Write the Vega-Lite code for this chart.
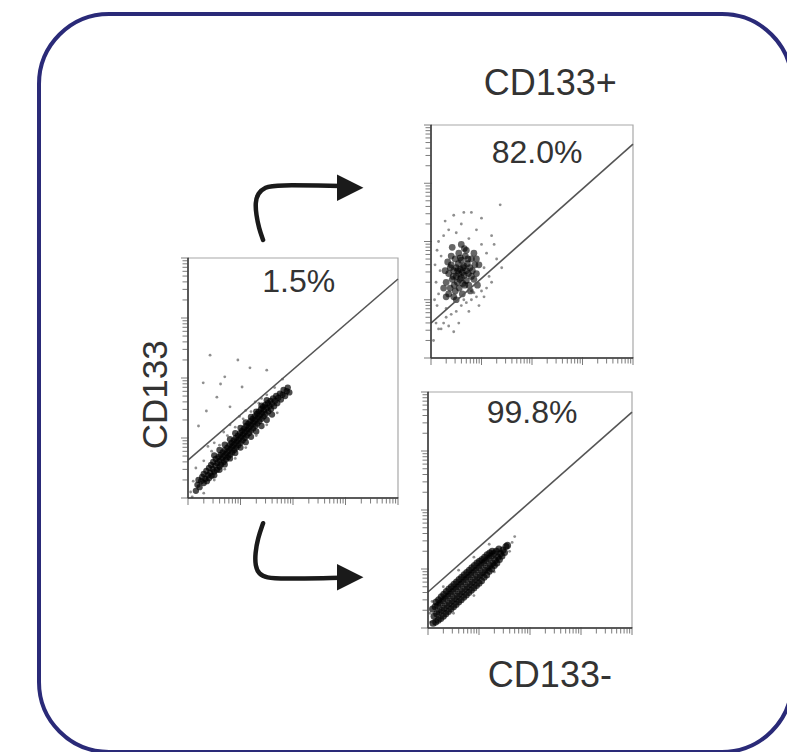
{
  "$schema": "https://vega.github.io/schema/vega-lite/v6.json",
  "width": 753,
  "height": 738,
  "autosize": "none",
  "padding": {"left": 39, "top": 14, "right": 0, "bottom": 0},
  "background": "white",
  "config": {
    "view": {"stroke": "#2a2a78", "strokeWidth": 4, "cornerRadius": 70},
    "font": "Liberation Sans"
  },
  "datasets": {
    "ticks": [
      {"v":0,"kind":"major"},{"v":0.301,"kind":"minor"},{"v":0.477,"kind":"minor"},{"v":0.602,"kind":"minor"},{"v":0.699,"kind":"minor"},{"v":0.778,"kind":"minor"},{"v":0.845,"kind":"minor"},{"v":0.903,"kind":"minor"},{"v":0.954,"kind":"minor"},
      {"v":1,"kind":"major"},{"v":1.301,"kind":"minor"},{"v":1.477,"kind":"minor"},{"v":1.602,"kind":"minor"},{"v":1.699,"kind":"minor"},{"v":1.778,"kind":"minor"},{"v":1.845,"kind":"minor"},{"v":1.903,"kind":"minor"},{"v":1.954,"kind":"minor"},
      {"v":2,"kind":"major"},{"v":2.301,"kind":"minor"},{"v":2.477,"kind":"minor"},{"v":2.602,"kind":"minor"},{"v":2.699,"kind":"minor"},{"v":2.778,"kind":"minor"},{"v":2.845,"kind":"minor"},{"v":2.903,"kind":"minor"},{"v":2.954,"kind":"minor"},
      {"v":3,"kind":"major"},{"v":3.301,"kind":"minor"},{"v":3.477,"kind":"minor"},{"v":3.602,"kind":"minor"},{"v":3.699,"kind":"minor"},{"v":3.778,"kind":"minor"},{"v":3.845,"kind":"minor"},{"v":3.903,"kind":"minor"},{"v":3.954,"kind":"minor"},
      {"v":4,"kind":"major"}
    ],
    "axislines": [
      {"x1":0,"y1":0,"x2":4,"y2":0},
      {"x1":0,"y1":0,"x2":0,"y2":4}
    ],
    "frame": [{"x0":0,"x1":4,"y0":0,"y1":4}],
    "left_core": [
      {"fl":0.15,"cd":0.12},{"fl":0.18,"cd":0.22},{"fl":0.2,"cd":0.3},{"fl":0.22,"cd":0.18},{"fl":0.25,"cd":0.28},{"fl":0.27,"cd":0.35},{"fl":0.3,"cd":0.25},{"fl":0.3,"cd":0.4},{"fl":0.33,"cd":0.32},{"fl":0.35,"cd":0.45},{"fl":0.36,"cd":0.28},{"fl":0.38,"cd":0.38},{"fl":0.4,"cd":0.5},{"fl":0.4,"cd":0.33},
      {"fl":0.42,"cd":0.42},{"fl":0.44,"cd":0.55},{"fl":0.45,"cd":0.37},{"fl":0.47,"cd":0.48},{"fl":0.48,"cd":0.6},{"fl":0.5,"cd":0.44},{"fl":0.52,"cd":0.54},{"fl":0.53,"cd":0.65},{"fl":0.55,"cd":0.47},{"fl":0.56,"cd":0.58},{"fl":0.58,"cd":0.68},{"fl":0.6,"cd":0.52},{"fl":0.6,"cd":0.62},{"fl":0.62,"cd":0.72},{"fl":0.63,"cd":0.56},{"fl":0.65,"cd":0.66},{"fl":0.66,"cd":0.76},{"fl":0.68,"cd":0.6},{"fl":0.69,"cd":0.7},{"fl":0.7,"cd":0.8},{"fl":0.72,"cd":0.64},{"fl":0.73,"cd":0.74},{"fl":0.75,"cd":0.84},{"fl":0.76,"cd":0.68},{"fl":0.77,"cd":0.78},{"fl":0.79,"cd":0.88},{"fl":0.8,"cd":0.72},
      {"fl":0.81,"cd":0.82},{"fl":0.83,"cd":0.92},{"fl":0.84,"cd":0.76},{"fl":0.85,"cd":0.86},{"fl":0.87,"cd":0.96},{"fl":0.88,"cd":0.8},{"fl":0.89,"cd":0.9},{"fl":0.91,"cd":1.0},{"fl":0.92,"cd":0.84},{"fl":0.93,"cd":0.94},{"fl":0.95,"cd":1.04},{"fl":0.96,"cd":0.88},{"fl":0.97,"cd":0.98},{"fl":0.99,"cd":1.08},{"fl":1.0,"cd":0.92},{"fl":1.01,"cd":1.02},{"fl":1.03,"cd":1.12},{"fl":1.04,"cd":0.96},{"fl":1.05,"cd":1.06},{"fl":1.07,"cd":1.16},{"fl":1.08,"cd":1.0},{"fl":1.09,"cd":1.1},{"fl":1.11,"cd":1.2},{"fl":1.12,"cd":1.04},{"fl":1.13,"cd":1.14},{"fl":1.15,"cd":1.24},{"fl":1.16,"cd":1.08},{"fl":1.17,"cd":1.18},{"fl":1.19,"cd":1.28},{"fl":1.2,"cd":1.12},
      {"fl":1.21,"cd":1.22},{"fl":1.23,"cd":1.32},{"fl":1.24,"cd":1.16},{"fl":1.25,"cd":1.26},{"fl":1.27,"cd":1.36},{"fl":1.28,"cd":1.2},{"fl":1.29,"cd":1.3},{"fl":1.31,"cd":1.4},{"fl":1.32,"cd":1.24},{"fl":1.33,"cd":1.34},{"fl":1.35,"cd":1.44},{"fl":1.36,"cd":1.28},{"fl":1.37,"cd":1.38},{"fl":1.39,"cd":1.48},{"fl":1.4,"cd":1.32},{"fl":1.41,"cd":1.42},{"fl":1.43,"cd":1.52},{"fl":1.44,"cd":1.36},{"fl":1.45,"cd":1.46},{"fl":1.47,"cd":1.55},{"fl":1.48,"cd":1.4},{"fl":1.5,"cd":1.5},{"fl":1.52,"cd":1.58},{"fl":1.53,"cd":1.44},{"fl":1.55,"cd":1.53},{"fl":1.57,"cd":1.62},{"fl":1.58,"cd":1.48},
      {"fl":1.6,"cd":1.57},{"fl":1.62,"cd":1.66},{"fl":1.64,"cd":1.53},{"fl":1.66,"cd":1.62},{"fl":1.68,"cd":1.7},{"fl":1.7,"cd":1.58},{"fl":1.72,"cd":1.67},{"fl":1.75,"cd":1.74},{"fl":1.77,"cd":1.64},{"fl":1.8,"cd":1.72},{"fl":1.82,"cd":1.8},{"fl":1.85,"cd":1.7},{"fl":1.88,"cd":1.78},{"fl":1.9,"cd":1.84},{"fl":1.93,"cd":1.76},
      {"fl":0.5,"cd":0.38},{"fl":0.7,"cd":0.56},{"fl":0.9,"cd":0.75},{"fl":1.1,"cd":0.93},{"fl":1.3,"cd":1.11},{"fl":1.5,"cd":1.3},{"fl":0.6,"cd":0.47},{"fl":0.8,"cd":0.66},{"fl":1.0,"cd":0.84},{"fl":1.2,"cd":1.02},{"fl":1.4,"cd":1.2},{"fl":1.6,"cd":1.39},
      {"fl":0.5,"cd":0.71},{"fl":0.7,"cd":0.89},{"fl":0.9,"cd":1.08},{"fl":1.1,"cd":1.26},{"fl":1.3,"cd":1.44},{"fl":1.5,"cd":1.63},{"fl":0.6,"cd":0.8},{"fl":0.8,"cd":0.98},{"fl":1.0,"cd":1.17},{"fl":1.2,"cd":1.35},{"fl":1.4,"cd":1.54}
    ],
    "left_sparse": [
      {"fl":0.42,"cd":2.38},{"fl":0.29,"cd":1.92},{"fl":0.55,"cd":1.68},{"fl":0.7,"cd":2.02},{"fl":1.18,"cd":2.17},{"fl":1.5,"cd":2.13},{"fl":1.03,"cd":1.85},{"fl":0.8,"cd":1.52},{"fl":0.35,"cd":1.45},{"fl":0.62,"cd":1.9},{"fl":0.95,"cd":2.3},{"fl":0.2,"cd":1.2},
      {"fl":0.3,"cd":0.62},{"fl":0.45,"cd":0.78},{"fl":0.6,"cd":0.88},{"fl":0.75,"cd":1.04},{"fl":0.9,"cd":1.18},{"fl":1.05,"cd":1.32},{"fl":1.2,"cd":1.44},{"fl":1.35,"cd":1.58},{"fl":1.5,"cd":1.72},{"fl":1.65,"cd":1.84},{"fl":0.5,"cd":0.92},{"fl":0.8,"cd":1.22},{"fl":1.1,"cd":1.46},{"fl":1.4,"cd":1.66},{"fl":0.38,"cd":0.86},{"fl":0.68,"cd":1.1},{"fl":0.98,"cd":1.36},{"fl":1.28,"cd":1.6},{"fl":1.8,"cd":1.98},{"fl":0.15,"cd":0.5},
      {"fl":0.5,"cd":0.3},{"fl":0.7,"cd":0.48},{"fl":0.9,"cd":0.66},{"fl":1.1,"cd":0.84},{"fl":1.3,"cd":1.04},{"fl":1.5,"cd":1.22},{"fl":0.3,"cd":0.08},{"fl":1.7,"cd":1.42},{"fl":0.05,"cd":0.1},{"fl":0.1,"cd":0.28},{"fl":0.08,"cd":0.02}
    ],
    "top_core": [
      {"fl":0.3,"cd":1.3},{"fl":0.35,"cd":1.45},{"fl":0.38,"cd":1.2},{"fl":0.4,"cd":1.6},{"fl":0.42,"cd":1.35},{"fl":0.45,"cd":1.5},{"fl":0.46,"cd":1.25},{"fl":0.48,"cd":1.7},{"fl":0.5,"cd":1.4},{"fl":0.5,"cd":1.55},{"fl":0.52,"cd":1.3},{"fl":0.54,"cd":1.62},{"fl":0.55,"cd":1.45},{"fl":0.56,"cd":1.2},{"fl":0.58,"cd":1.52},{"fl":0.6,"cd":1.38},{"fl":0.6,"cd":1.68},{"fl":0.62,"cd":1.47},{"fl":0.63,"cd":1.28},{"fl":0.65,"cd":1.58},{"fl":0.66,"cd":1.42},{"fl":0.68,"cd":1.75},{"fl":0.7,"cd":1.5},{"fl":0.7,"cd":1.33},{"fl":0.72,"cd":1.62},{"fl":0.74,"cd":1.45},{"fl":0.75,"cd":1.25},{"fl":0.77,"cd":1.55},{"fl":0.8,"cd":1.4},{"fl":0.8,"cd":1.7},{"fl":0.82,"cd":1.5},{"fl":0.85,"cd":1.35},{"fl":0.87,"cd":1.6},{"fl":0.9,"cd":1.45},{"fl":0.35,"cd":1.1},{"fl":0.4,"cd":1.75},{"fl":0.45,"cd":1.05},{"fl":0.55,"cd":1.8},{"fl":0.62,"cd":1.1},{"fl":0.7,"cd":1.85},{"fl":0.78,"cd":1.15},{"fl":0.85,"cd":1.8},{"fl":0.92,"cd":1.25},{"fl":0.95,"cd":1.6},{"fl":0.28,"cd":1.5},{"fl":0.33,"cd":1.65},{"fl":0.44,"cd":1.4},{"fl":0.53,"cd":1.5},{"fl":0.57,"cd":1.35},{"fl":0.64,"cd":1.55},{"fl":0.67,"cd":1.25},{"fl":0.73,"cd":1.7},{"fl":0.48,"cd":1.15},{"fl":0.42,"cd":1.9},{"fl":0.6,"cd":1.95},
      {"fl":0.25,"cd":1.2},{"fl":0.3,"cd":1.05},{"fl":0.5,"cd":1.0},{"fl":0.58,"cd":1.72},{"fl":0.66,"cd":1.88},{"fl":0.38,"cd":1.55},{"fl":0.9,"cd":1.7}
    ],
    "top_sparse": [
      {"fl":0.05,"cd":0.3},{"fl":0.1,"cd":0.6},{"fl":0.12,"cd":0.9},{"fl":0.15,"cd":1.1},{"fl":0.1,"cd":1.3},{"fl":0.18,"cd":1.5},{"fl":0.2,"cd":1.75},{"fl":0.15,"cd":2.0},{"fl":0.25,"cd":2.1},{"fl":0.35,"cd":2.2},{"fl":0.5,"cd":2.15},{"fl":0.6,"cd":2.3},{"fl":0.75,"cd":2.05},{"fl":0.9,"cd":2.2},{"fl":1.0,"cd":1.95},{"fl":1.1,"cd":1.8},{"fl":1.2,"cd":2.1},{"fl":1.37,"cd":2.63},{"fl":0.8,"cd":2.5},{"fl":0.45,"cd":2.45},{"fl":1.05,"cd":1.55},{"fl":1.15,"cd":1.4},{"fl":1.3,"cd":1.7},{"fl":0.3,"cd":0.85},{"fl":0.2,"cd":0.5},
      {"fl":0.3,"cd":0.7},{"fl":0.4,"cd":0.75},{"fl":0.5,"cd":0.8},{"fl":0.6,"cd":0.9},{"fl":0.7,"cd":0.95},{"fl":0.8,"cd":1.0},{"fl":0.9,"cd":1.05},{"fl":1.0,"cd":1.15},{"fl":1.1,"cd":1.2},{"fl":0.55,"cd":0.6},{"fl":0.75,"cd":0.8},{"fl":0.95,"cd":0.9},{"fl":0.65,"cd":1.0},{"fl":0.85,"cd":1.12},{"fl":1.2,"cd":1.3},{"fl":0.45,"cd":0.45},{"fl":0.35,"cd":0.55},{"fl":0.25,"cd":0.6},{"fl":0.15,"cd":0.5},{"fl":1.05,"cd":1.05},{"fl":0.8,"cd":1.15},
      {"fl":0.08,"cd":1.6},{"fl":0.12,"cd":1.85},{"fl":0.28,"cd":2.35},{"fl":0.65,"cd":2.5},{"fl":1.0,"cd":2.4},{"fl":1.25,"cd":1.95},{"fl":0.07,"cd":1.0},{"fl":1.4,"cd":1.55}
    ],
    "bottom_core": [
      {"fl":0.1,"cd":0.08},{"fl":0.12,"cd":0.2},{"fl":0.09,"cd":0.32},
      {"fl":0.15,"cd":0.1},{"fl":0.17,"cd":0.24},{"fl":0.14,"cd":0.36},{"fl":0.16,"cd":0.44},
      {"fl":0.2,"cd":0.13},{"fl":0.22,"cd":0.27},{"fl":0.19,"cd":0.38},{"fl":0.21,"cd":0.48},
      {"fl":0.25,"cd":0.16},{"fl":0.27,"cd":0.3},{"fl":0.24,"cd":0.42},{"fl":0.26,"cd":0.53},
      {"fl":0.3,"cd":0.2},{"fl":0.32,"cd":0.34},{"fl":0.29,"cd":0.46},{"fl":0.31,"cd":0.57},
      {"fl":0.35,"cd":0.24},{"fl":0.37,"cd":0.38},{"fl":0.34,"cd":0.5},{"fl":0.36,"cd":0.62},
      {"fl":0.4,"cd":0.28},{"fl":0.42,"cd":0.42},{"fl":0.39,"cd":0.54},{"fl":0.41,"cd":0.66},
      {"fl":0.45,"cd":0.32},{"fl":0.47,"cd":0.46},{"fl":0.44,"cd":0.58},{"fl":0.46,"cd":0.7},
      {"fl":0.5,"cd":0.36},{"fl":0.52,"cd":0.5},{"fl":0.49,"cd":0.62},{"fl":0.51,"cd":0.74},
      {"fl":0.55,"cd":0.4},{"fl":0.57,"cd":0.54},{"fl":0.54,"cd":0.66},{"fl":0.56,"cd":0.78},
      {"fl":0.6,"cd":0.44},{"fl":0.62,"cd":0.58},{"fl":0.59,"cd":0.7},{"fl":0.61,"cd":0.82},
      {"fl":0.65,"cd":0.48},{"fl":0.67,"cd":0.62},{"fl":0.64,"cd":0.74},{"fl":0.66,"cd":0.86},
      {"fl":0.7,"cd":0.52},{"fl":0.72,"cd":0.66},{"fl":0.69,"cd":0.78},{"fl":0.71,"cd":0.9},
      {"fl":0.75,"cd":0.56},{"fl":0.77,"cd":0.7},{"fl":0.74,"cd":0.82},{"fl":0.76,"cd":0.94},
      {"fl":0.8,"cd":0.6},{"fl":0.82,"cd":0.74},{"fl":0.79,"cd":0.86},{"fl":0.81,"cd":0.98},
      {"fl":0.85,"cd":0.64},{"fl":0.87,"cd":0.78},{"fl":0.84,"cd":0.9},{"fl":0.86,"cd":1.02},
      {"fl":0.9,"cd":0.68},{"fl":0.92,"cd":0.82},{"fl":0.89,"cd":0.94},{"fl":0.91,"cd":1.06},
      {"fl":0.95,"cd":0.72},{"fl":0.97,"cd":0.86},{"fl":0.94,"cd":0.98},{"fl":0.96,"cd":1.1},
      {"fl":1.0,"cd":0.76},{"fl":1.02,"cd":0.9},{"fl":0.99,"cd":1.02},{"fl":1.01,"cd":1.13},
      {"fl":1.05,"cd":0.8},{"fl":1.07,"cd":0.94},{"fl":1.04,"cd":1.06},{"fl":1.06,"cd":1.16},
      {"fl":1.1,"cd":0.86},{"fl":1.12,"cd":0.98},{"fl":1.09,"cd":1.1},{"fl":1.11,"cd":1.2},
      {"fl":1.15,"cd":0.9},{"fl":1.17,"cd":1.02},{"fl":1.14,"cd":1.14},{"fl":1.16,"cd":1.24},
      {"fl":1.2,"cd":0.96},{"fl":1.22,"cd":1.06},{"fl":1.19,"cd":1.18},{"fl":1.21,"cd":1.27},
      {"fl":1.25,"cd":1.0},{"fl":1.27,"cd":1.1},{"fl":1.24,"cd":1.22},{"fl":1.26,"cd":1.3},
      {"fl":1.3,"cd":1.06},{"fl":1.32,"cd":1.15},{"fl":1.29,"cd":1.26},
      {"fl":1.35,"cd":1.1},{"fl":1.37,"cd":1.2},{"fl":1.34,"cd":1.3},
      {"fl":1.4,"cd":1.16},{"fl":1.42,"cd":1.26},{"fl":1.39,"cd":1.34},
      {"fl":1.45,"cd":1.22},{"fl":1.47,"cd":1.32},
      {"fl":1.5,"cd":1.28},{"fl":1.53,"cd":1.38},
      {"fl":1.56,"cd":1.4}
    ],
    "bottom_sparse": [
      {"fl":0.05,"cd":0.1},{"fl":0.04,"cd":0.25},{"fl":0.08,"cd":0.45},{"fl":1.65,"cd":1.45},{"fl":1.7,"cd":1.55},{"fl":1.6,"cd":1.3},{"fl":0.3,"cd":0.7},{"fl":0.6,"cd":0.98},{"fl":0.9,"cd":1.2},{"fl":1.2,"cd":1.42},{"fl":0.5,"cd":0.25},{"fl":0.9,"cd":0.55},{"fl":1.3,"cd":0.95}
    ],
    "arrows": [
      {"id":"up","i":0,"fl":1.43,"cd":4.30},{"id":"up","i":1,"fl":1.35,"cd":4.50},{"id":"up","i":2,"fl":1.30,"cd":4.72},{"id":"up","i":3,"fl":1.28,"cd":4.92},{"id":"up","i":4,"fl":1.33,"cd":5.08},{"id":"up","i":5,"fl":1.47,"cd":5.18},{"id":"up","i":6,"fl":1.66,"cd":5.22},{"id":"up","i":7,"fl":2.90,"cd":5.20},
      {"id":"down","i":0,"fl":1.43,"cd":-0.42},{"id":"down","i":1,"fl":1.33,"cd":-0.67},{"id":"down","i":2,"fl":1.28,"cd":-0.92},{"id":"down","i":3,"fl":1.28,"cd":-1.13},{"id":"down","i":4,"fl":1.35,"cd":-1.27},{"id":"down","i":5,"fl":1.50,"cd":-1.33},{"id":"down","i":6,"fl":1.75,"cd":-1.35},{"id":"down","i":7,"fl":2.90,"cd":-1.33}
    ],
    "heads": [
      {"id":"up","fl":3.09,"cd":5.17},
      {"id":"down","fl":3.09,"cd":-1.32}
    ]
  },
  "layer": [
    {
      "encoding": {
        "x": {"type":"quantitative","scale":{"domain":[0,4],"range":[149,359],"nice":false,"zero":false},"axis":null},
        "y": {"type":"quantitative","scale":{"domain":[0,4],"range":[484,244],"nice":false,"zero":false},"axis":null}
      },
      "layer": [
        {"data": {"name":"frame"}, "mark": {"type":"rect","fill":"transparent","stroke":"#a8a8a8","strokeWidth":1.2},
          "encoding": {"x":{"field":"x0"},"x2":{"field":"x1"},"y":{"field":"y0"},"y2":{"field":"y1"}}},
        {"data": {"name":"left_sparse"}, "mark": {"type":"circle","size":8,"color":"#444","opacity":0.6},
          "encoding": {"x":{"field":"fl"},"y":{"field":"cd"}}},
        {"data": {"name":"left_core"}, "mark": {"type":"circle","size":40,"color":"#000","opacity":0.7},
          "encoding": {"x":{"field":"fl"},"y":{"field":"cd"}}},
        {"data": {"values": [{"x1":0,"y1":0.63,"x2":4,"y2":3.65}]}, "mark": {"type":"rule","color":"#555","strokeWidth":1.6},
          "encoding": {"x":{"field":"x1"},"y":{"field":"y1"},"x2":{"field":"x2"},"y2":{"field":"y2"}}},
        {"data": {"name":"axislines"}, "mark": {"type":"rule","color":"#333","strokeWidth":1.5},
          "encoding": {"x":{"field":"x1"},"y":{"field":"y1"},"x2":{"field":"x2"},"y2":{"field":"y2"}}},
        {"data": {"name":"ticks"}, "mark": {"type":"tick","orient":"vertical","color":"#444","thickness":1,"yOffset":3},
          "encoding": {"x":{"field":"v"},"y":{"datum":0},"size":{"field":"kind","type":"nominal","scale":{"domain":["major","minor"],"range":[8,5]},"legend":null}}},
        {"data": {"name":"ticks"}, "mark": {"type":"tick","orient":"horizontal","color":"#444","thickness":1,"xOffset":-3},
          "encoding": {"y":{"field":"v"},"x":{"datum":0},"size":{"field":"kind","type":"nominal","scale":{"domain":["major","minor"],"range":[8,5]},"legend":null}}},
        {"data": {"values": [{"fl":2.11,"cd":3.43,"t":"1.5%"}]}, "mark": {"type":"text","fontSize":32,"color":"#333","align":"center","baseline":"alphabetic"},
          "encoding": {"x":{"field":"fl"},"y":{"field":"cd"},"text":{"field":"t"}}},
        {"data": {"values": [{"fl":-0.4,"cd":1.72,"t":"CD133"}]}, "mark": {"type":"text","fontSize":35,"color":"#333","align":"center","baseline":"alphabetic","angle":270},
          "encoding": {"x":{"field":"fl"},"y":{"field":"cd"},"text":{"field":"t"}}},
        {"data": {"name":"arrows"}, "mark": {"type":"line","color":"#1a1a1a","strokeWidth":4.5,"strokeCap":"round","strokeJoin":"round","interpolate":"basis"},
          "encoding": {"x":{"field":"fl"},"y":{"field":"cd"},"detail":{"field":"id"},"order":{"field":"i"}}},
        {"data": {"name":"heads"}, "mark": {"type":"point","shape":"M-1,-1L1,0L-1,1Z","size":700,"filled":true,"color":"#1a1a1a","opacity":1},
          "encoding": {"x":{"field":"fl"},"y":{"field":"cd"}}}
      ]
    },
    {
      "encoding": {
        "x": {"type":"quantitative","scale":{"domain":[0,4],"range":[392,594],"nice":false,"zero":false},"axis":null},
        "y": {"type":"quantitative","scale":{"domain":[0,4],"range":[344,111],"nice":false,"zero":false},"axis":null}
      },
      "layer": [
        {"data": {"name":"frame"}, "mark": {"type":"rect","fill":"transparent","stroke":"#a8a8a8","strokeWidth":1.2},
          "encoding": {"x":{"field":"x0"},"x2":{"field":"x1"},"y":{"field":"y0"},"y2":{"field":"y1"}}},
        {"data": {"name":"top_sparse"}, "mark": {"type":"circle","size":8,"color":"#444","opacity":0.6},
          "encoding": {"x":{"field":"fl"},"y":{"field":"cd"}}},
        {"data": {"name":"top_core"}, "mark": {"type":"circle","size":45,"color":"#000","opacity":0.6},
          "encoding": {"x":{"field":"fl"},"y":{"field":"cd"}}},
        {"data": {"values": [{"x1":0,"y1":0.6,"x2":4,"y2":3.67}]}, "mark": {"type":"rule","color":"#555","strokeWidth":1.6},
          "encoding": {"x":{"field":"x1"},"y":{"field":"y1"},"x2":{"field":"x2"},"y2":{"field":"y2"}}},
        {"data": {"name":"axislines"}, "mark": {"type":"rule","color":"#333","strokeWidth":1.5},
          "encoding": {"x":{"field":"x1"},"y":{"field":"y1"},"x2":{"field":"x2"},"y2":{"field":"y2"}}},
        {"data": {"name":"ticks"}, "mark": {"type":"tick","orient":"vertical","color":"#444","thickness":1,"yOffset":3},
          "encoding": {"x":{"field":"v"},"y":{"datum":0},"size":{"field":"kind","type":"nominal","scale":{"domain":["major","minor"],"range":[8,5]},"legend":null}}},
        {"data": {"name":"ticks"}, "mark": {"type":"tick","orient":"horizontal","color":"#444","thickness":1,"xOffset":-3},
          "encoding": {"y":{"field":"v"},"x":{"datum":0},"size":{"field":"kind","type":"nominal","scale":{"domain":["major","minor"],"range":[8,5]},"legend":null}}},
        {"data": {"values": [{"fl":2.1,"cd":3.35,"t":"82.0%"}]}, "mark": {"type":"text","fontSize":32,"color":"#333","align":"center","baseline":"alphabetic"},
          "encoding": {"x":{"field":"fl"},"y":{"field":"cd"},"text":{"field":"t"}}},
        {"data": {"values": [{"fl":2.36,"cd":4.52,"t":"CD133+"}]}, "mark": {"type":"text","fontSize":36,"color":"#333","align":"center","baseline":"alphabetic"},
          "encoding": {"x":{"field":"fl"},"y":{"field":"cd"},"text":{"field":"t"}}}
      ]
    },
    {
      "encoding": {
        "x": {"type":"quantitative","scale":{"domain":[0,4],"range":[389,593],"nice":false,"zero":false},"axis":null},
        "y": {"type":"quantitative","scale":{"domain":[0,4],"range":[614,378],"nice":false,"zero":false},"axis":null}
      },
      "layer": [
        {"data": {"name":"frame"}, "mark": {"type":"rect","fill":"transparent","stroke":"#a8a8a8","strokeWidth":1.2},
          "encoding": {"x":{"field":"x0"},"x2":{"field":"x1"},"y":{"field":"y0"},"y2":{"field":"y1"}}},
        {"data": {"name":"bottom_sparse"}, "mark": {"type":"circle","size":8,"color":"#444","opacity":0.6},
          "encoding": {"x":{"field":"fl"},"y":{"field":"cd"}}},
        {"data": {"name":"bottom_core"}, "mark": {"type":"circle","size":50,"color":"#000","opacity":0.7},
          "encoding": {"x":{"field":"fl"},"y":{"field":"cd"}}},
        {"data": {"values": [{"x1":0,"y1":0.61,"x2":4,"y2":3.66}]}, "mark": {"type":"rule","color":"#555","strokeWidth":1.6},
          "encoding": {"x":{"field":"x1"},"y":{"field":"y1"},"x2":{"field":"x2"},"y2":{"field":"y2"}}},
        {"data": {"name":"axislines"}, "mark": {"type":"rule","color":"#333","strokeWidth":1.5},
          "encoding": {"x":{"field":"x1"},"y":{"field":"y1"},"x2":{"field":"x2"},"y2":{"field":"y2"}}},
        {"data": {"name":"ticks"}, "mark": {"type":"tick","orient":"vertical","color":"#444","thickness":1,"yOffset":3},
          "encoding": {"x":{"field":"v"},"y":{"datum":0},"size":{"field":"kind","type":"nominal","scale":{"domain":["major","minor"],"range":[8,5]},"legend":null}}},
        {"data": {"name":"ticks"}, "mark": {"type":"tick","orient":"horizontal","color":"#444","thickness":1,"xOffset":-3},
          "encoding": {"y":{"field":"v"},"x":{"datum":0},"size":{"field":"kind","type":"nominal","scale":{"domain":["major","minor"],"range":[8,5]},"legend":null}}},
        {"data": {"values": [{"fl":2.04,"cd":3.47,"t":"99.8%"}]}, "mark": {"type":"text","fontSize":32,"color":"#333","align":"center","baseline":"alphabetic"},
          "encoding": {"x":{"field":"fl"},"y":{"field":"cd"},"text":{"field":"t"}}},
        {"data": {"values": [{"fl":2.39,"cd":-1.0,"t":"CD133-"}]}, "mark": {"type":"text","fontSize":36,"color":"#333","align":"center","baseline":"alphabetic"},
          "encoding": {"x":{"field":"fl"},"y":{"field":"cd"},"text":{"field":"t"}}}
      ]
    }
  ],
  "resolve": {
    "scale": {"x": "independent", "y": "independent", "size": "independent"},
    "axis": {"x": "independent", "y": "independent"}
  }
}
